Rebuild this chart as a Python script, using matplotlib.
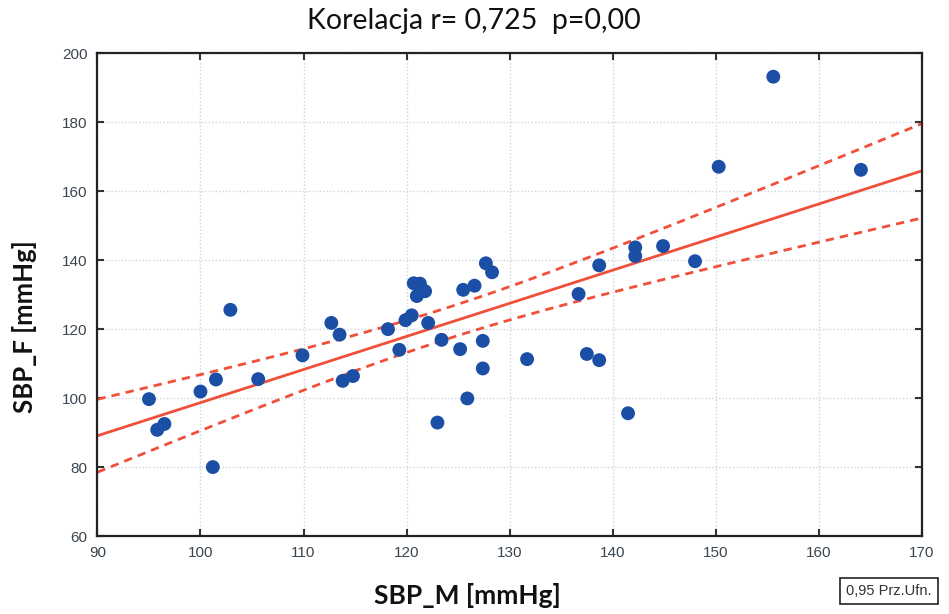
import numpy as np
import matplotlib
matplotlib.use("Agg")
import matplotlib.pyplot as plt

# Data
sbp_m = [95.0, 95.8, 96.5, 100.0, 101.5, 101.2, 102.9, 105.6, 109.9, 112.7,
         113.5, 113.8, 114.8, 118.2, 119.3, 119.9, 120.5, 122.1, 123.4, 123.0,
         125.2, 125.9, 127.4, 127.4, 120.7, 121.3, 121.0, 121.8, 125.5, 126.6,
         127.7, 128.3, 155.6, 150.3, 164.1, 142.2, 142.2, 144.9, 138.7, 148.0,
         136.7, 131.7, 137.5, 138.7, 141.5]
sbp_f = [99.7, 90.8, 92.5, 101.9, 105.4, 80.0, 125.6, 105.5, 112.4, 121.8,
         118.4, 105.0, 106.4, 120.0, 114.0, 122.6, 124.0, 121.8, 116.9, 92.9,
         114.2, 99.9, 116.6, 108.6, 133.3, 133.2, 129.6, 131.0, 131.4, 132.6,
         139.1, 136.5, 193.2, 167.1, 166.2, 143.7, 141.2, 144.1, 138.5, 139.7,
         130.2, 111.3, 112.8, 111.0, 95.6]

x_ticks = [90, 100, 110, 120, 130, 140, 150, 160, 170]
y_ticks = [60, 80, 100, 120, 140, 160, 180, 200]

title = "Korelacja r= 0,725  p=0,00"
xlabel = "SBP_M [mmHg]"
ylabel = "SBP_F [mmHg]"
legend_text = "0,95 Prz.Ufn."

x = np.array(sbp_m)
y = np.array(sbp_f)
n = len(x)
slope, intercept = np.polyfit(x, y, 1)
resid = y - (slope * x + intercept)
s = np.sqrt(np.sum(resid ** 2) / (n - 2))
t = 2.017
xx = np.linspace(x_ticks[0], x_ticks[-1], 200)
yy = slope * xx + intercept
se = s * np.sqrt(1 / n + (xx - x.mean()) ** 2 / np.sum((x - x.mean()) ** 2))

W, H = 949, 614
fig = plt.figure(figsize=(W / 100, H / 100), dpi=100)
ax = fig.add_axes([0.1027, 0.127, 0.9712 - 0.1027, 0.9132 - 0.127])

red = "#f0503a"
ax.plot(xx, yy, color=red, lw=2, zorder=2)
ax.plot(xx, yy + t * se, color=red, lw=2, ls=(0, (3, 2.2)), zorder=2)
ax.plot(xx, yy - t * se, color=red, lw=2, ls=(0, (3, 2.2)), zorder=2)
ax.scatter(x, y, s=100, color="#1b4fa6", edgecolors="none", zorder=3)

ax.set_xlim(x_ticks[0], x_ticks[-1])
ax.set_ylim(y_ticks[0], y_ticks[-1])
ax.set_xticks(x_ticks)
ax.set_yticks(y_ticks)
ax.grid(True, color="#c9d6e3", ls=(0, (1, 1.5)), lw=1)
ax.tick_params(direction="in", length=5, width=1.5, top=True, right=True,
               labelsize=11, colors="#333333", pad=7)
for lab in ax.get_xticklabels() + ax.get_yticklabels():
    lab.set_family("Liberation Sans")
    lab.set_color("#3a4650")
for sp in ax.spines.values():
    sp.set_linewidth(1.6)
    sp.set_color("#222222")

fig.text(474 / W, 1 - 21 / H, title, fontsize=20.5, family="Lato",
         ha="center", va="center", color="#111111")
fig.text(467 / W, 1 - 596 / H, xlabel, fontsize=19, family="Lato",
         fontweight="bold", ha="center", va="center", color="#111111")
fig.text(25 / W, 1 - 327 / H, ylabel, fontsize=18.5, family="Lato",
         fontweight="bold", ha="center", va="center", rotation=90,
         color="#111111")

fig.text(889 / W, 1 - 591 / H, legend_text, fontsize=10.5,
         family="Liberation Sans", ha="center", va="center", color="#333333",
         bbox=dict(boxstyle="square,pad=0.4", fc="white", ec="#222222", lw=1.2))

fig.savefig("out.png", dpi=100)
